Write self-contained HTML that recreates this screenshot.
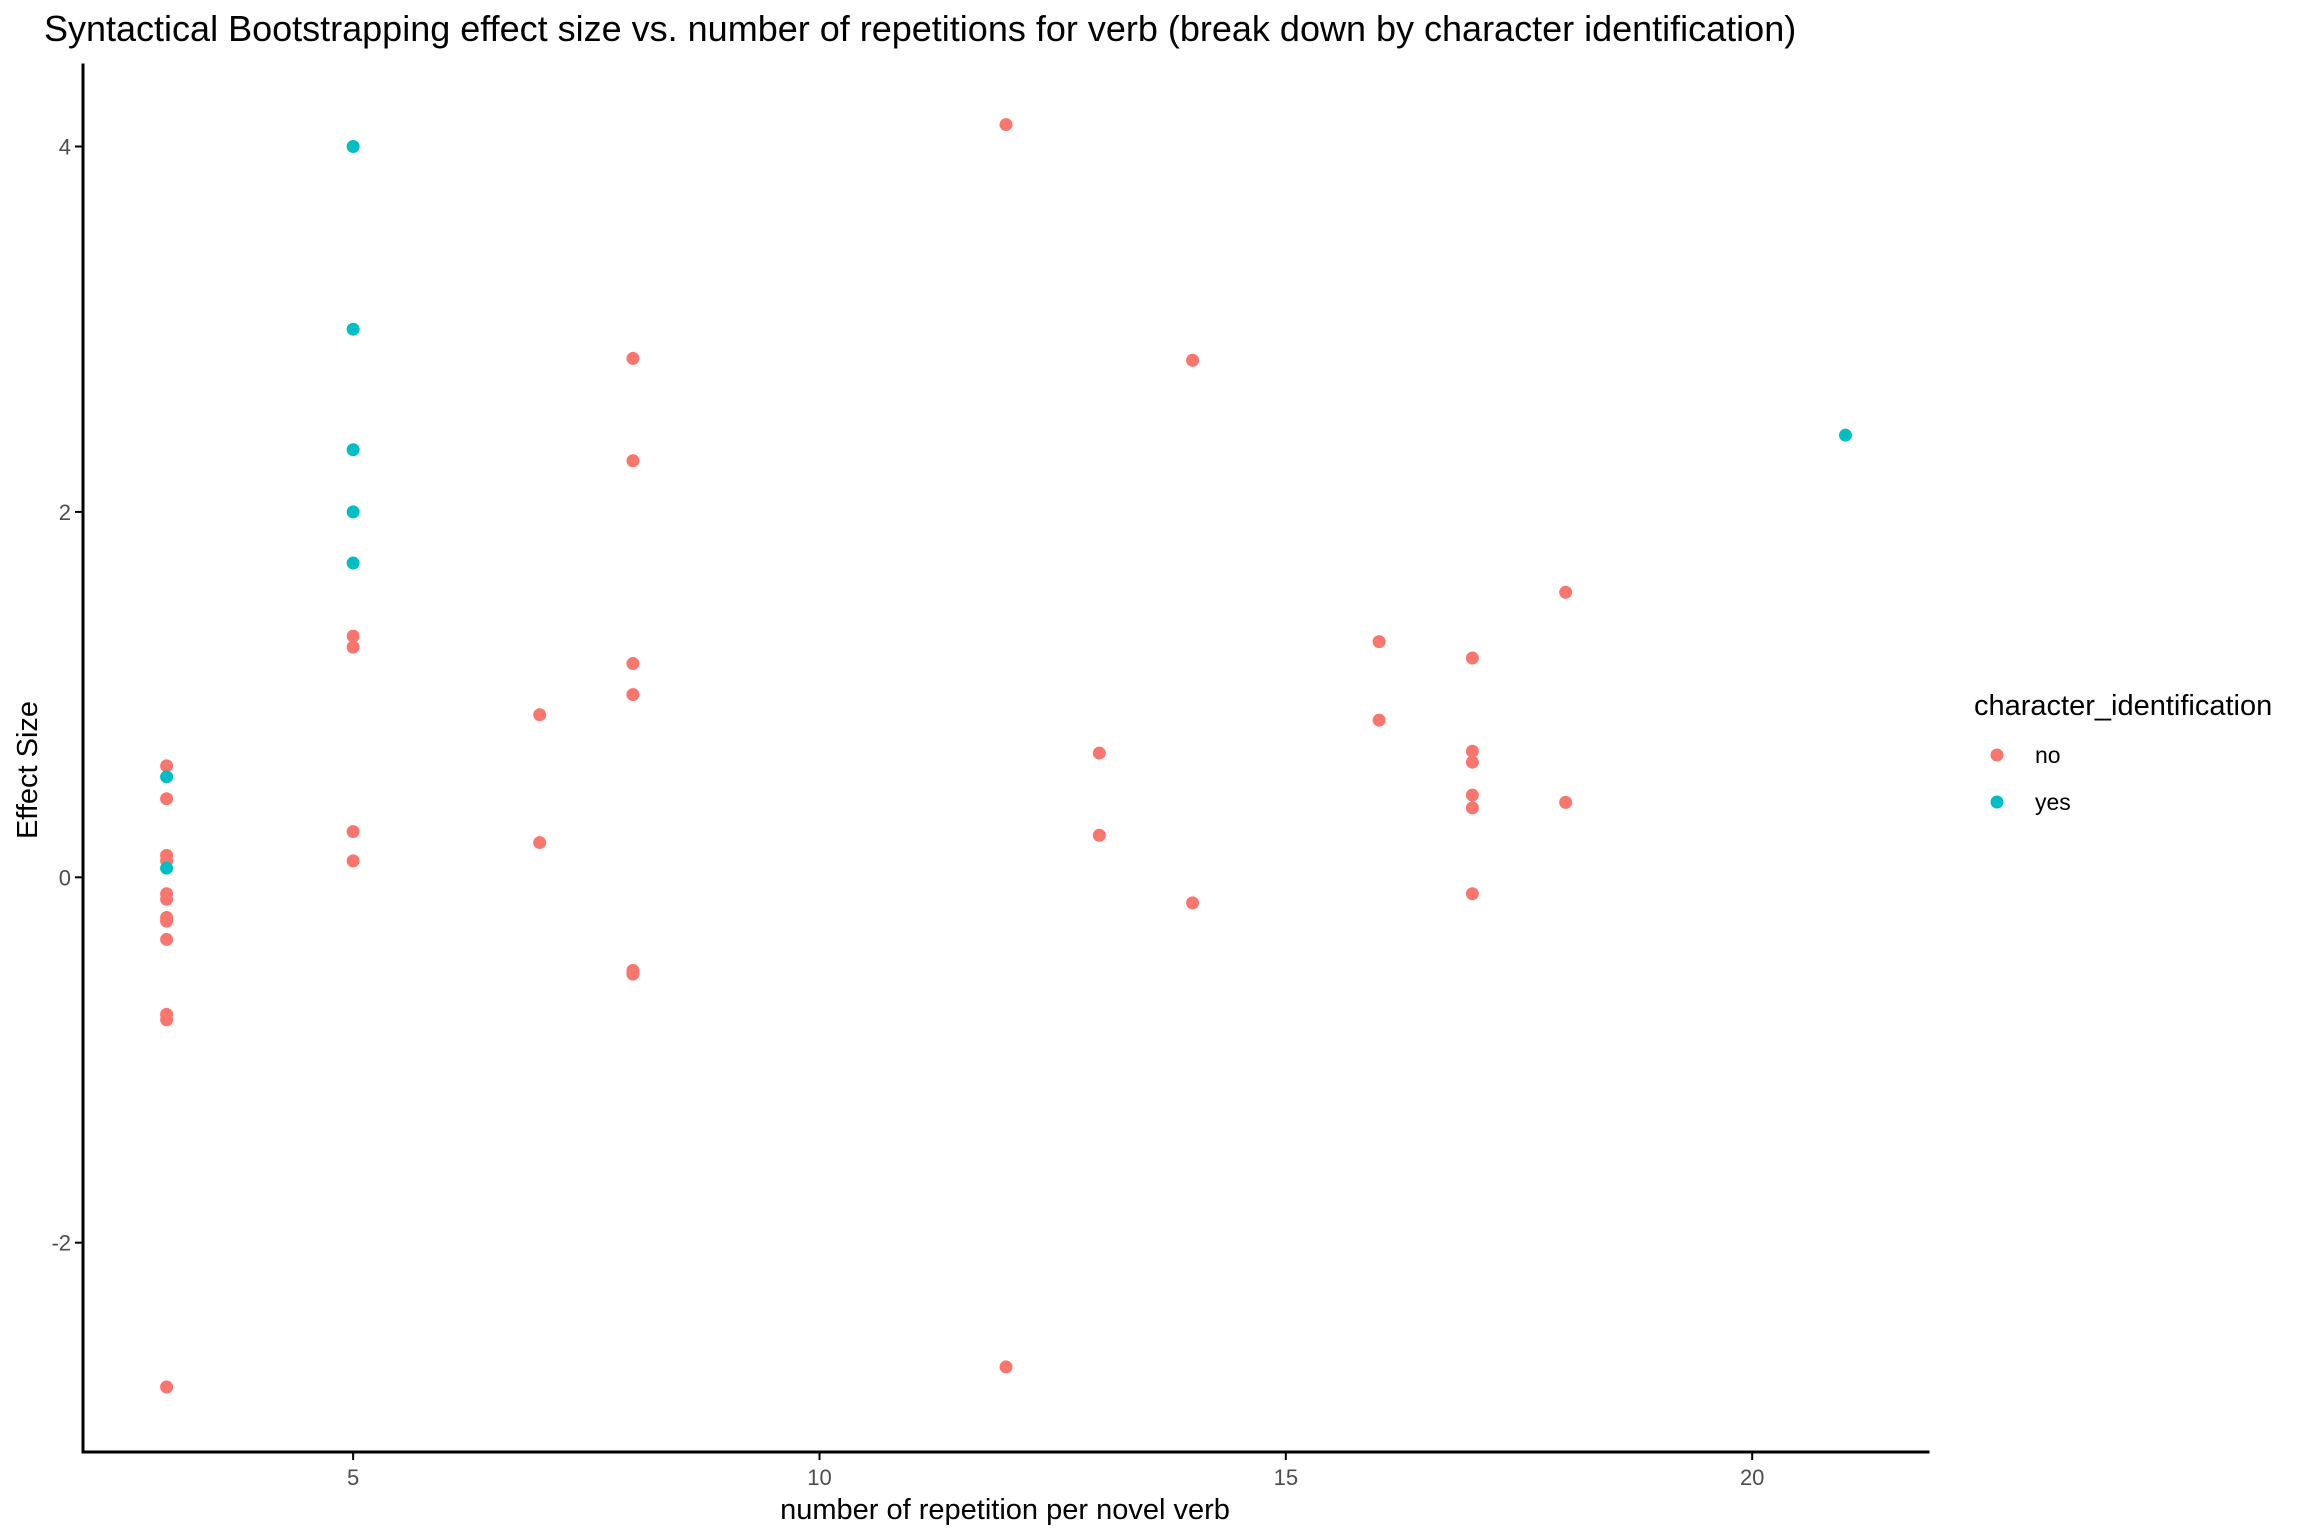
<!DOCTYPE html>
<html><head><meta charset="utf-8"><style>
html,body{margin:0;padding:0;background:#fff;}
svg{display:block;font-family:"Liberation Sans",Arial,sans-serif;}
</style></head><body>
<svg id="chart" width="2304" height="1536" viewBox="0 0 2304 1536" xmlns="http://www.w3.org/2000/svg">
<text x="44" y="41" font-size="36" fill="#000">Syntactical Bootstrapping effect size vs. number of repetitions for verb (break down by character identification)</text>
<g id="points"></g>
<g id="axes"></g>
<text x="1005" y="1519" font-size="29" text-anchor="middle" fill="#000">number of repetition per novel verb</text>
<text transform="translate(37,770) rotate(-90)" font-size="29" text-anchor="middle" fill="#000">Effect Size</text>
<g>
<text x="1974" y="715" font-size="29" fill="#000">character_identification</text>
<g><circle cx="1997" cy="755" r="6.5" fill="#F8766D"/><text x="2035" y="763" font-size="23" fill="#000">no</text></g>
<g><circle cx="1997" cy="802" r="6.5" fill="#00BFC4"/><text x="2035" y="810" font-size="23" fill="#000">yes</text></g>
</g>
</svg>
<script>
const noX = [3,3,3,3,3,3,3,3,3,3,3,3, 5,5,5,5, 7,7, 8,8,8,8,8,8, 12,12, 13,13, 14,14, 16,16, 17,17,17,17,17,17, 18,18];
const noY = [0.61,0.43,0.12,0.09,-0.09,-0.12,-0.22,-0.24,-0.34,-0.75,-0.78,-2.79, 1.32,1.26,0.25,0.09, 0.89,0.19, 2.84,2.28,1.17,1.00,-0.51,-0.53, 4.12,-2.68, 0.68,0.23, 2.83,-0.14, 1.29,0.86, 1.20,0.69,0.63,0.45,0.38,-0.09, 1.56,0.41];
const yesX = [3,3,5,5,5,5,5,21];
const yesY = [0.55,0.05,4.00,3.00,2.34,2.00,1.72,2.42];
const xTicks = [5,10,15,20];
const yTicks = [-2,0,2,4];
const xTickLabels = ["5","10","15","20"];
const yTickLabels = ["-2","0","2","4"];

const NS="http://www.w3.org/2000/svg";
const L=83,R=1928,T=65,B=1452;
function xs(v){return 166.6+(v-3)*93.27;}
function ys(v){return 877.3-v*182.7;}
const pts=document.getElementById('points');
function dot(x,y,c,nm){
  const e=document.createElementNS(NS,'circle');
  e.setAttribute('cx',xs(x));e.setAttribute('cy',ys(y));e.setAttribute('r',6.5);e.setAttribute('fill',c);
  
  
  pts.appendChild(e);
}
for(let i=0;i<noX.length;i++) dot(noX[i],noY[i],'#F8766D','point-no');
for(let i=0;i<yesX.length;i++) dot(yesX[i],yesY[i],'#00BFC4','point-yes');
const ax=document.getElementById('axes');
function line(x1,y1,x2,y2,w,nm){
  const e=document.createElementNS(NS,'line');
  e.setAttribute('x1',x1);e.setAttribute('y1',y1);e.setAttribute('x2',x2);e.setAttribute('y2',y2);
  e.setAttribute('stroke','#000');e.setAttribute('stroke-width',w);e.setAttribute('stroke-linecap','square');
  
  
  ax.appendChild(e);
}
function txt(x,y,s,anchor,nm){
  const e=document.createElementNS(NS,'text');
  e.setAttribute('x',x);e.setAttribute('y',y);e.setAttribute('font-size','22');e.setAttribute('fill','#4d4d4d');e.setAttribute('text-anchor',anchor);
  e.textContent=s;
  
  
  ax.appendChild(e);
}
line(L,T,L,B,3,'y-axis-line');
line(L,B,R,B,3,'x-axis-line');
xTicks.forEach((t,i)=>{line(xs(t),B,xs(t),B+7,2,'x-tick');txt(xs(t),B+33,xTickLabels[i],'middle','x-tick-label');});
yTicks.forEach((t,i)=>{line(L-7,ys(t),L,ys(t),2,'y-tick');txt(L-12,ys(t)+8,yTickLabels[i],'end','y-tick-label');});
</script>
</body></html>
